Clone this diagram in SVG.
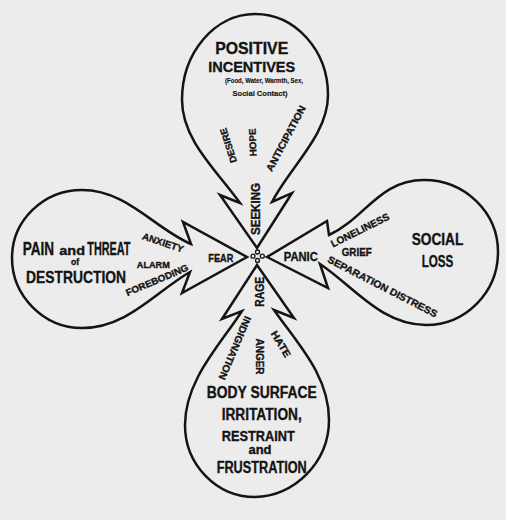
<svg xmlns="http://www.w3.org/2000/svg" width="506" height="520" viewBox="0 0 506 520">
<style>
.lobe{fill:none;stroke:#141414;stroke-width:2.5;stroke-linejoin:miter;stroke-miterlimit:12}
.hub circle{fill:none;stroke:#141414;stroke-width:1.3}
text{font-family:"Liberation Sans",Arial,Helvetica,sans-serif;font-weight:bold;fill:#141414;stroke:#141414;stroke-width:0.35}
.tiny{stroke-width:0.15}
</style>
<rect x="0" y="0" width="506" height="520" fill="#ececec"/>

<g id="positive-incentives">
<path class="lobe" d="M 240 203 C 216.8 170.6 182 140 182 100 C 182 52.5 214.7 14 255 14 C 295.3 14 328 50.3 328 95 C 328 135 290.4 166.4 272 202 L 292 193 L 257 248 L 220 195 Z"/>
<text x="251.7" y="54.3" font-size="16.5" text-anchor="middle" textLength="73" lengthAdjust="spacingAndGlyphs">POSITIVE</text>
<text x="251.7" y="71.6" font-size="15.5" text-anchor="middle" textLength="87" lengthAdjust="spacingAndGlyphs">INCENTIVES</text>
<text class="tiny" x="264" y="83.3" font-size="7" text-anchor="middle" textLength="78" lengthAdjust="spacingAndGlyphs">(Food, Water, Warmth, Sex,</text>
<text class="tiny" x="260" y="95.5" font-size="7" text-anchor="middle" textLength="55" lengthAdjust="spacingAndGlyphs">Social Contact)</text>
<text transform="translate(228.3,145.5) rotate(-108)" y="3.4" font-size="9.5" text-anchor="middle" textLength="36" lengthAdjust="spacingAndGlyphs">DESIRE</text>
<text transform="translate(252.5,142.5) rotate(-92)" y="3.4" font-size="9.5" text-anchor="middle" textLength="28" lengthAdjust="spacingAndGlyphs">HOPE</text>
<text transform="translate(285.8,138.3) rotate(-62)" y="3.6" font-size="10" text-anchor="middle" textLength="73" lengthAdjust="spacingAndGlyphs">ANTICIPATION</text>
<text transform="translate(255,209) rotate(-90)" y="4.7" font-size="13" text-anchor="middle" textLength="52" lengthAdjust="spacingAndGlyphs">SEEKING</text>
</g>

<g id="pain-threat">
<path class="lobe" d="M 191 244 C 154.2 228.4 127 190 82 190 C 43.4 190 12 220.5 12 258 C 12 295.5 43.4 328 82 328 C 127 328 155.2 292 190 272 L 182 293 L 247 257 L 183 222 Z"/>
<text transform="translate(22.7,255) scale(0.773,1)" font-size="17.5">PAIN</text>
<text x="59.3" y="255" font-size="12" textLength="25.7" lengthAdjust="spacingAndGlyphs">and</text>
<text transform="translate(87.3,255) scale(0.62,1)" font-size="17.5">THREAT</text>
<text x="75" y="265.4" font-size="8.5" text-anchor="middle">of</text>
<text x="76" y="282.8" font-size="17" text-anchor="middle" textLength="100" lengthAdjust="spacingAndGlyphs">DESTRUCTION</text>
<text transform="translate(163,242.5) rotate(18.4)" y="3.4" font-size="9.5" text-anchor="middle" textLength="43" lengthAdjust="spacingAndGlyphs">ANXIETY</text>
<text x="153.3" y="267.5" font-size="9.5" text-anchor="middle" textLength="33" lengthAdjust="spacingAndGlyphs">ALARM</text>
<text transform="translate(157,280) rotate(-22.9)" y="3.4" font-size="9.5" text-anchor="middle" textLength="67" lengthAdjust="spacingAndGlyphs">FOREBODING</text>
<text x="220.8" y="261.7" font-size="11.5" text-anchor="middle" textLength="25" lengthAdjust="spacingAndGlyphs">FEAR</text>
</g>

<g id="social-loss">
<path class="lobe" d="M 329 235 C 365.4 218.2 379 180 424 180 C 464.8 180 498 212.3 498 252 C 498 292.3 465.7 325 426 325 C 381 325 353.2 286 320 264 L 328 288 L 267 257 L 327 221 Z"/>
<text x="437.5" y="245" font-size="16" text-anchor="middle" textLength="51.7" lengthAdjust="spacingAndGlyphs">SOCIAL</text>
<text x="437.5" y="266.7" font-size="16" text-anchor="middle" textLength="31.7" lengthAdjust="spacingAndGlyphs">LOSS</text>
<text transform="translate(360,230) rotate(-26.6)" y="3.6" font-size="10" text-anchor="middle" textLength="64" lengthAdjust="spacingAndGlyphs">LONELINESS</text>
<text x="356.7" y="256.2" font-size="10" text-anchor="middle" textLength="30" lengthAdjust="spacingAndGlyphs">GRIEF</text>
<text transform="translate(382.6,286.5) rotate(27.2)" y="3.6" font-size="10" text-anchor="middle" textLength="122" lengthAdjust="spacingAndGlyphs">SEPARATION DISTRESS</text>
<text x="300.8" y="261.2" font-size="12" text-anchor="middle" textLength="34" lengthAdjust="spacingAndGlyphs">PANIC</text>
</g>

<g id="body-surface">
<path class="lobe" d="M 242 311 C 220.4 344.6 185 380 185 425 C 185 464.7 216.4 497 255 497 C 293.6 497 329 462.5 329 420 C 329 375 296.8 342.8 274 310 L 294 318 L 257 265 L 222 319 Z"/>
<text transform="translate(259.5,291.7) rotate(-90)" y="4.5" font-size="12.5" text-anchor="middle" textLength="30" lengthAdjust="spacingAndGlyphs">RAGE</text>
<text transform="translate(235,348) rotate(112.9)" y="3.6" font-size="10" text-anchor="middle" textLength="68" lengthAdjust="spacingAndGlyphs">INDIGNATION</text>
<text transform="translate(259.5,356.5) rotate(90)" y="3.6" font-size="10" text-anchor="middle" textLength="36" lengthAdjust="spacingAndGlyphs">ANGER</text>
<text transform="translate(281,344) rotate(59)" y="3.6" font-size="10" text-anchor="middle" textLength="29" lengthAdjust="spacingAndGlyphs">HATE</text>
<text x="261.7" y="398.3" font-size="16" text-anchor="middle" textLength="110" lengthAdjust="spacingAndGlyphs">BODY SURFACE</text>
<text x="261.7" y="420" font-size="16" text-anchor="middle" textLength="80" lengthAdjust="spacingAndGlyphs">IRRITATION,</text>
<text x="258.3" y="441" font-size="15.5" text-anchor="middle" textLength="73" lengthAdjust="spacingAndGlyphs">RESTRAINT</text>
<text x="260" y="454.3" font-size="12" text-anchor="middle" textLength="23" lengthAdjust="spacingAndGlyphs">and</text>
<text x="261.7" y="473.3" font-size="16" text-anchor="middle" textLength="90" lengthAdjust="spacingAndGlyphs">FRUSTRATION</text>
</g>

<g id="hub" class="hub">
<circle cx="257.5" cy="252" r="2"/>
<circle cx="253" cy="256.2" r="2"/>
<circle cx="262.3" cy="256.2" r="2"/>
<circle cx="257.5" cy="260.5" r="2"/>
</g>
</svg>
